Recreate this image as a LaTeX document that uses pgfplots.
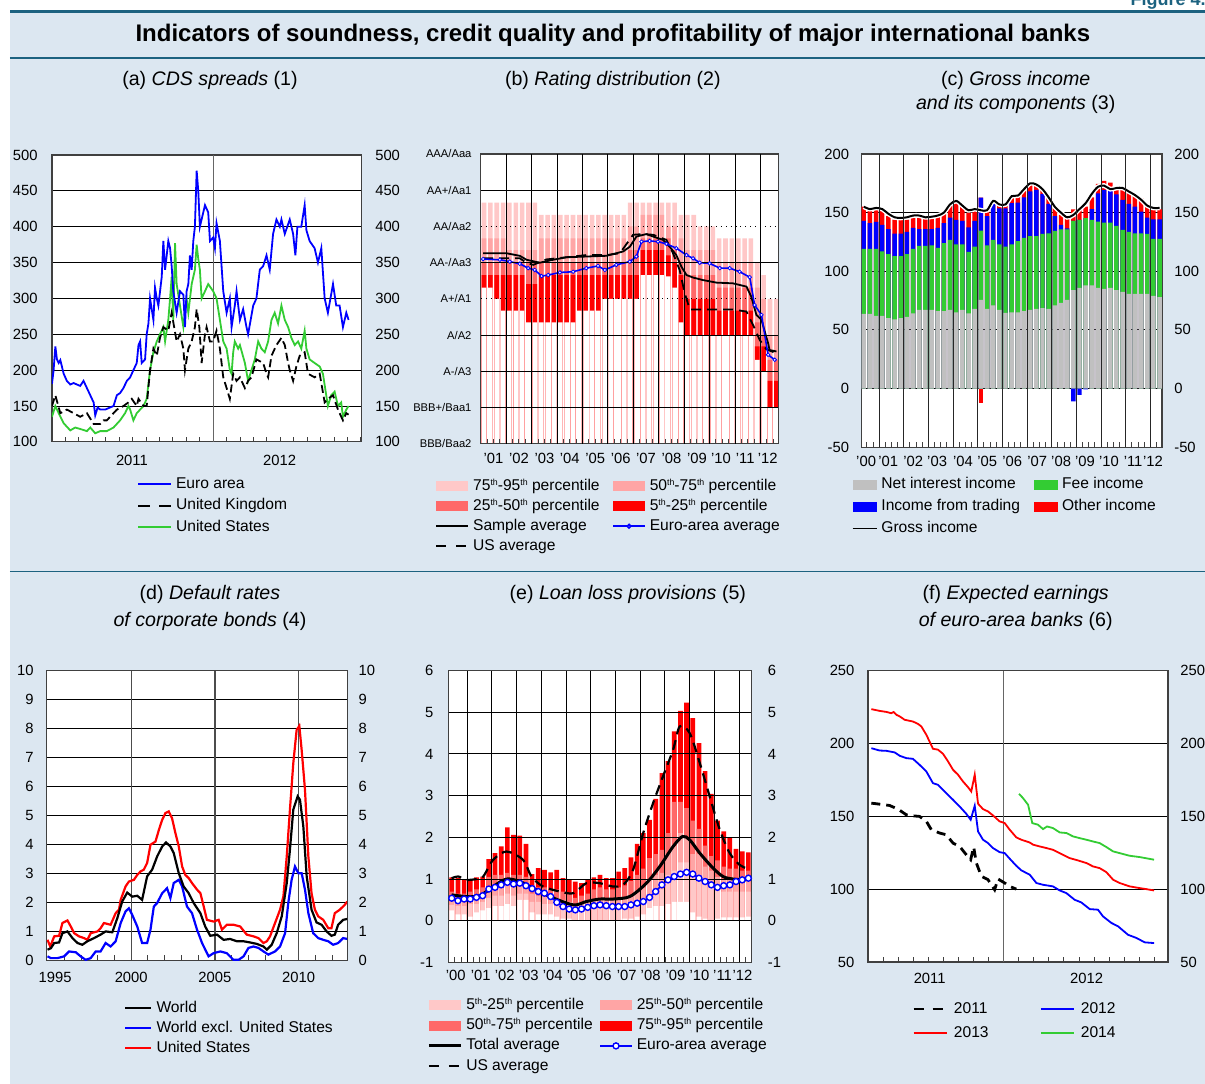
\documentclass[border=0pt]{standalone}
\usepackage{fontspec}
\setmainfont{Liberation Sans}
\usepackage{pgfplots}
\usepackage{pgfplotstable}
\pgfplotsset{compat=1.18}

\definecolor{bgblue}{RGB}{220,231,241}
\definecolor{rulec}{RGB}{28,98,128}
\definecolor{pkA}{RGB}{255,200,200}
\definecolor{pkB}{RGB}{255,165,165}
\definecolor{pkC}{RGB}{255,105,105}
\definecolor{pkD}{RGB}{255,0,0}
\definecolor{grn}{RGB}{51,204,51}
\definecolor{gry}{RGB}{192,192,192}

\newcommand{\tkf}{\fontsize{7.4}{8.5}\selectfont}
\newcommand{\lgf}{\fontsize{7.8}{9}\selectfont}
\newcommand{\ptf}{\fontsize{9.8}{11}\selectfont}
\newcommand{\sth}{\raisebox{0.6ex}{\fontsize{4.4}{5}\selectfont th}}
\newcommand{\legw}{16pt}

\pgfplotsset{
  barleg/.style={legend image code/.code={\fill[##1, draw=none] (0pt,-2.5pt) rectangle (\legw,2.5pt);}},
  lineleg/.style={legend image code/.code={\draw[mark repeat=2,mark phase=2,##1] plot coordinates {(0pt,0pt) ({0.5*\legw},0pt) (\legw,0pt)};}},
  legbase/.style={
    legend cell align=left,
    legend style={draw=none, fill=none, inner sep=0pt, anchor=north west, font=\lgf,
      nodes={inner sep=0pt, text height=6pt, text depth=2pt}, column sep=2pt},
  },
  panel/.style={legbase,
    scale only axis, anchor=south west,
    axis background/.style={fill=white},
    axis line style={black!75, line width=0.6pt},
    tick label style={font=\tkf},
    /pgf/number format/assume math mode=true,
    ytick style={draw=none},
    xtick pos=left, tick align=inside,
    major tick length=0pt, minor tick length=2.5pt,
    minor tick style={black!75, line width=0.5pt},
    ymajorgrids, major grid style={black, line width=0.45pt},
    yticklabel style={inner sep=0pt, anchor=east},
    xticklabel style={inner sep=0pt, anchor=north},
  },
  twin/.style={legbase,
    scale only axis, anchor=south west,
    axis x line=none, axis y line*=right,
    y axis line style={draw=none}, ytick style={draw=none},
    tick label style={font=\tkf},
    /pgf/number format/assume math mode=true,
    yticklabel style={inner sep=0pt, anchor=west},
  },
}

% (a) CDS spreads, x = months since Jan 2011
\pgfplotstableread{
m v
0.00 181
0.12 200
0.25 233
0.37 215
0.50 210
0.62 214
0.87 195
1.11 185
1.36 180
1.61 182
2.10 178
2.35 185
2.60 175
2.85 165
3.10 155
3.22 137
3.40 148
3.59 145
3.96 145
4.33 148
4.58 150
4.83 165
5.07 168
5.32 175
5.57 185
5.82 190
6.06 200
6.31 210
6.44 235
6.56 240
6.68 210
6.93 215
7.05 250
7.18 265
7.30 300
7.55 270
7.67 315
7.80 300
7.92 290
8.17 330
8.29 380
8.42 340
8.66 380
8.79 370
8.91 345
9.03 310
9.28 280
9.53 310
9.78 305
9.90 260
10.02 310
10.15 320
10.27 360
10.40 340
10.52 380
10.64 400
10.77 478
10.89 450
11.01 400
11.39 430
11.63 420
11.76 380
12.00 385
12.13 370
12.25 405
12.50 380
12.75 310
13.00 280
13.24 300
13.37 260
13.61 290
13.74 310
13.99 270
14.23 285
14.48 260
14.60 250
14.98 290
15.22 300
15.47 340
15.72 345
15.97 360
16.21 340
16.46 390
16.71 410
16.96 400
17.08 410
17.33 390
17.70 410
17.95 390
18.12 360
18.27 400
18.56 400
18.81 430
18.94 395
19.18 380
19.55 370
19.80 350
20.05 370
20.30 300
20.54 280
20.92 320
21.16 290
21.41 290
21.66 260
21.91 280
22.08 270
}\taEA
\pgfplotstableread{
m v
0.00 150
0.25 165
0.62 140
1.11 145
1.61 140
2.10 135
2.60 140
3.10 125
3.59 125
3.84 130
4.08 130
4.58 140
4.83 145
5.32 150
5.69 155
5.94 160
6.31 150
6.44 160
6.81 150
7.05 150
7.30 200
7.55 230
7.80 220
8.04 245
8.29 260
8.66 255
8.91 280
9.28 240
9.53 250
9.78 230
9.90 200
10.15 230
10.40 240
10.64 260
10.77 285
10.97 260
11.14 210
11.39 250
11.51 260
11.76 240
12.00 240
12.25 255
12.50 230
12.75 190
13.00 175
13.24 160
13.49 195
13.74 185
13.99 190
14.36 175
14.60 185
14.85 190
15.22 215
15.72 210
15.97 195
16.09 190
16.34 220
16.71 235
17.08 245
17.33 235
17.58 210
17.70 200
17.95 185
18.19 205
18.44 220
18.81 225
19.06 195
19.55 190
19.93 195
20.30 155
20.54 160
20.92 165
21.29 145
21.66 130
21.91 140
22.08 138
}\taUK
\pgfplotstableread{
m v
0.00 135
0.25 150
0.50 140
0.87 126
1.36 116
1.73 120
2.10 118
2.60 115
2.85 120
3.22 112
3.59 115
4.08 115
4.58 120
5.07 130
5.44 140
5.69 150
5.82 145
6.06 130
6.31 140
6.56 145
6.81 150
7.05 160
7.30 200
7.55 225
7.80 240
8.04 250
8.29 260
8.42 240
8.66 270
8.79 300
8.91 330
9.03 270
9.16 377
9.28 320
9.53 290
9.78 260
10.02 300
10.15 280
10.40 320
10.64 340
10.77 375
10.89 355
11.01 340
11.14 300
11.39 310
11.63 320
12.00 310
12.25 300
12.50 270
12.75 240
13.00 230
13.24 200
13.37 195
13.49 225
13.61 240
13.86 230
13.99 235
14.36 210
14.60 185
14.85 200
15.10 215
15.35 240
15.59 230
15.84 225
16.09 240
16.34 270
16.58 280
16.83 265
17.08 290
17.33 270
17.58 260
17.82 245
18.07 235
18.32 240
18.56 230
18.81 255
18.94 230
19.18 215
19.55 210
19.93 205
20.17 195
20.54 150
20.79 165
21.04 170
21.29 150
21.53 155
21.66 135
21.91 145
22.08 150
}\taUS

% (b) rating distribution, BBB/Baa2 = 0 ... AAA/Aaa = 8
\pgfplotstableread{
x p5 p25 p50 p75 p95
2001.125 4.31 4.66 5.00 5.67 6.66
2001.375 4.31 4.66 5.00 5.67 6.66
2001.625 4.00 4.66 5.00 5.67 6.66
2001.875 3.68 4.66 5.00 5.67 6.66
2002.125 3.68 4.66 5.00 5.35 6.66
2002.375 3.68 4.66 5.00 5.35 6.66
2002.625 3.68 4.66 5.00 5.35 6.66
2002.875 3.35 4.41 5.00 5.35 6.66
2003.125 3.35 4.41 5.00 5.35 6.66
2003.375 3.35 4.66 5.00 5.67 6.32
2003.625 3.35 4.66 5.00 5.67 6.32
2003.875 3.35 4.66 5.00 5.67 6.32
2004.125 3.35 4.66 5.00 5.67 6.32
2004.375 3.35 4.66 5.00 5.67 6.32
2004.625 3.35 4.66 5.00 5.67 6.32
2004.875 3.68 4.66 5.00 5.67 6.32
2005.125 3.68 4.66 5.00 5.67 6.32
2005.375 3.68 4.66 5.00 5.67 6.32
2005.625 3.68 4.66 5.00 5.67 6.32
2005.875 4.00 4.66 5.00 5.67 6.32
2006.125 4.00 4.66 5.00 5.67 6.32
2006.375 4.00 4.66 5.00 5.67 6.32
2006.625 4.00 4.66 5.00 5.67 6.32
2006.875 4.00 4.66 5.35 6.00 6.66
2007.125 4.00 4.66 5.35 6.00 6.66
2007.375 4.66 5.35 5.67 6.32 6.66
2007.625 4.66 5.35 5.67 6.32 6.66
2007.875 4.66 5.35 5.67 6.32 6.66
2008.125 4.66 5.35 5.67 6.32 6.66
2008.375 4.62 5.20 5.67 6.00 6.66
2008.625 4.31 5.00 5.35 6.00 6.66
2008.875 3.35 4.66 5.00 5.67 6.32
2009.125 3.00 4.00 4.66 5.35 6.32
2009.375 3.00 4.00 4.66 5.35 6.32
2009.625 3.00 4.00 4.66 5.35 6.00
2009.875 3.00 4.00 4.66 5.35 6.00
2010.125 3.00 4.00 4.66 5.35 6.00
2010.375 3.00 3.68 4.31 5.00 5.67
2010.625 3.00 3.68 4.31 5.00 5.67
2010.875 3.00 3.68 4.31 5.00 5.67
2011.125 3.00 3.68 4.31 5.00 5.67
2011.375 3.00 3.68 4.31 5.00 5.67
2011.625 3.00 3.68 4.31 5.00 5.67
2011.875 2.32 2.69 3.35 4.31 5.00
2012.125 2.00 2.69 3.00 4.00 4.66
2012.375 1.00 1.74 2.32 3.00 4.00
2012.625 1.00 1.74 2.32 3.00 4.00
}\tb

% (c) gross income: cumulative tops of the positive parts
\pgfplotstableread{
x nii fee trade other gross
2000.375 63.6 119 143 155 155
2000.625 63.6 119 141 152 153
2000.875 62 119 142 153 154
2001.125 62 117 139.5 152 153
2001.375 60 114.5 136 147 149
2001.625 59 113 132 144 146
2001.875 60 113 132 144 145.5
2002.125 61 114.5 133.5 144 146
2002.375 64 119 137 146.5 147.5
2002.625 67 121.6 136 147 147.5
2002.875 67 121.6 136 145 146
2003.125 67 122 136 145.7 146.5
2003.375 66 120 137 146.5 147.5
2003.625 66 124 141 149 150
2003.875 67 126.7 145.7 157 157
2004.125 65 123 143.7 158.5 160
2004.375 67 123 143 155.7 156
2004.625 64 116.5 137.5 150 152
2004.875 68 121 143 151.4 153
2005.125 75.6 134.7 162.8 162.8 152
2005.375 68 122 147 151 152
2005.625 71 126.7 157.4 159.4 160
2005.875 67 123 153.7 155.7 157
2006.125 64.5 121 153.7 155.7 157
2006.375 65 123 158 163 164
2006.625 65 125.6 158.5 163.6 164.5
2006.875 66 128.4 163 168.75 170
2007.125 67 130 168 173.6 175
2007.375 68 130 169.3 173.6 174
2007.625 68.5 131.8 166 170.7 170
2007.875 68 132.4 157.4 163 163
2008.125 71 134.4 147 155 155
2008.375 73 135.8 139.5 148 150
2008.625 75.6 135.8 136.6 145.2 146
2008.875 84 143 143 152.8 148
2009.125 85.8 143.7 143.7 153.7 153
2009.375 88 145.2 145.2 155 158
2009.625 88 143.7 153 163 166
2009.875 85.8 142.3 166.5 174.4 172
2010.125 85 141.5 169.3 177 173
2010.375 85.8 141.5 168.5 175.6 170
2010.625 84 138.6 165.6 171.6 171
2010.875 82.4 135.2 160.8 172 171
2011.125 80.7 133.5 157.4 168.75 168
2011.375 80.7 132.4 155 165 165
2011.625 80.7 132.4 150.8 162.2 161
2011.875 80.7 131.8 145.7 155 156
2012.125 79 127.5 144.3 153.7 154
2012.375 78 127.5 144.3 152.8 154
}\tc

% (d) default rates
\pgfplotstableread{
x v
1995.00 0.71
1995.16 0.48
1995.40 0.83
1995.69 0.85
1995.89 1.29
1996.19 1.38
1996.39 1.17
1996.59 0.94
1996.88 0.83
1997.18 0.77
1997.38 0.71
1997.58 0.94
1997.98 1.00
1998.17 1.11
1998.37 1.29
1998.77 1.23
1999.07 1.63
1999.27 1.75
1999.37 2.09
1999.66 2.55
1999.86 2.72
2000.16 2.78
2000.36 2.95
2000.56 3.07
2000.75 3.13
2000.95 3.36
2001.15 3.99
2001.45 4.10
2001.65 4.50
2001.85 4.85
2002.04 5.08
2002.24 5.14
2002.44 4.90
2002.64 4.39
2002.84 3.93
2003.04 3.24
2003.23 2.95
2003.43 2.84
2003.63 2.67
2003.93 2.44
2004.13 2.32
2004.33 1.86
2004.52 1.40
2004.92 1.34
2005.22 1.40
2005.42 1.06
2005.71 1.23
2006.11 1.23
2006.51 1.17
2006.90 0.89
2007.30 0.83
2007.60 0.77
2007.90 0.60
2008.10 0.66
2008.29 0.83
2008.59 1.29
2008.89 1.75
2009.09 2.21
2009.29 3.59
2009.48 5.20
2009.68 6.80
2009.88 7.95
2010.04 8.09
2010.18 7.26
2010.38 5.88
2010.58 3.59
2010.77 2.32
2010.97 1.75
2011.17 1.52
2011.47 1.40
2011.77 1.11
2011.96 1.11
2012.16 1.63
2012.46 1.75
2012.76 1.92
2012.90 2.03
}\tdUS
\pgfplotstableread{
x v
1995.00 0.37
1995.20 0.42
1995.40 0.60
1995.69 0.62
1995.89 0.94
1996.19 1.00
1996.49 0.77
1996.79 0.60
1997.08 0.54
1997.38 0.66
1997.78 0.77
1998.17 0.89
1998.47 1.00
1998.87 0.97
1999.17 1.46
1999.46 2.03
1999.76 2.34
2000.06 2.20
2000.36 2.23
2000.65 2.09
2000.95 2.90
2001.25 3.13
2001.55 3.59
2001.85 3.93
2002.08 4.07
2002.34 3.93
2002.54 3.70
2002.84 3.01
2003.13 2.55
2003.43 2.32
2003.73 1.98
2004.13 1.63
2004.42 1.17
2004.72 0.85
2005.12 0.89
2005.52 0.71
2005.91 0.74
2006.31 0.66
2006.71 0.66
2007.10 0.62
2007.50 0.57
2007.90 0.48
2008.10 0.37
2008.39 0.54
2008.69 0.94
2008.99 1.52
2009.29 2.67
2009.48 3.82
2009.68 5.20
2009.94 5.66
2010.08 5.54
2010.28 4.62
2010.48 2.90
2010.77 1.75
2011.07 1.31
2011.37 1.23
2011.67 1.00
2011.96 0.85
2012.16 0.89
2012.36 1.23
2012.66 1.40
2012.90 1.43
}\tdW
\pgfplotstableread{
x v
1995.00 0.14
1995.20 0.08
1995.60 0.08
1995.99 0.14
1996.29 0.31
1996.69 0.28
1996.98 0.14
1997.28 0.02
1997.58 0.08
1997.88 0.31
1998.17 0.31
1998.47 0.60
1998.77 0.48
1999.07 0.66
1999.37 1.29
1999.66 1.69
1999.86 1.80
2000.06 1.57
2000.36 1.17
2000.65 0.60
2000.95 0.60
2001.15 1.06
2001.35 1.86
2001.55 1.98
2001.85 2.32
2002.14 2.49
2002.34 2.15
2002.54 2.67
2002.84 2.78
2003.04 2.55
2003.33 1.86
2003.63 1.63
2003.93 1.06
2004.23 0.60
2004.62 0.14
2004.92 0.25
2005.32 0.31
2005.71 0.25
2006.11 0.02
2006.41 0.02
2006.71 0.14
2007.00 0.43
2007.30 0.48
2007.60 0.43
2007.90 0.31
2008.19 0.20
2008.59 0.31
2008.89 0.48
2009.19 0.94
2009.38 1.98
2009.58 2.78
2009.78 3.24
2009.98 3.01
2010.18 3.01
2010.38 2.44
2010.58 1.63
2010.87 0.94
2011.17 0.77
2011.47 0.71
2011.77 0.66
2012.06 0.54
2012.36 0.60
2012.66 0.77
2012.90 0.74
}\tdX

% (e) loan loss provisions
\pgfplotstableread{
x p5 p25 p50 p75 p95 ea
2000.375 0.25 0.38 0.5 0.7 1.04 0.54
2000.625 0.15 0.35 0.45 0.65 1.02 0.48
2000.875 0.15 0.35 0.45 0.65 0.98 0.52
2001.125 0.1 0.4 0.5 0.7 0.98 0.52
2001.375 0.2 0.4 0.55 0.75 1.04 0.56
2001.625 0.25 0.45 0.6 0.8 1.06 0.60
2001.875 0.3 0.55 0.75 1.05 1.48 0.76
2002.125 0.35 0.6 0.85 1.1 1.62 0.80
2002.375 0.35 0.6 0.85 1.1 1.78 0.86
2002.625 0.4 0.65 0.9 1.15 2.24 0.92
2002.875 0.35 0.6 0.85 1.1 2.06 0.88
2003.125 0.5 0.65 0.85 1.1 2.04 0.90
2003.375 0.5 0.65 0.85 1.05 1.84 0.84
2003.625 0.2 0.45 0.65 0.85 1.12 0.77
2003.875 0.15 0.45 0.6 0.8 1.26 0.70
2004.125 0.15 0.4 0.6 0.8 1.22 0.66
2004.375 0.15 0.4 0.6 0.75 1.16 0.58
2004.625 0.1 0.35 0.55 0.75 1.22 0.44
2004.875 0.05 0.3 0.5 0.7 1.02 0.34
2005.125 0.05 0.3 0.45 0.65 1.0 0.28
2005.375 0.0 0.25 0.4 0.55 0.94 0.26
2005.625 0.0 0.25 0.4 0.6 0.9 0.28
2005.875 0.0 0.25 0.45 0.65 0.98 0.32
2006.125 0.0 0.3 0.5 0.75 1.04 0.36
2006.375 0.0 0.3 0.5 0.8 1.1 0.38
2006.625 0.0 0.3 0.5 0.75 1.02 0.36
2006.875 0.0 0.3 0.5 0.75 1.02 0.34
2007.125 0.0 0.3 0.55 0.8 1.18 0.34
2007.375 0.05 0.3 0.55 0.85 1.26 0.34
2007.625 0.05 0.35 0.6 0.95 1.52 0.38
2007.875 0.1 0.4 0.7 1.1 1.84 0.42
2008.125 0.15 0.45 0.8 1.25 2.10 0.46
2008.375 0.3 0.6 1.0 1.5 2.42 0.56
2008.625 0.35 0.7 1.1 1.6 2.92 0.70
2008.875 0.35 0.75 1.15 1.7 3.54 0.86
2009.125 0.4 1.1 1.6 2.1 3.83 0.98
2009.375 0.45 1.2 1.8 2.85 4.54 1.06
2009.625 0.45 1.4 2.1 2.85 5.03 1.12
2009.875 0.45 1.4 2.0 2.7 5.23 1.16
2010.125 0.2 1.2 1.6 2.4 4.86 1.12
2010.375 0.1 1.1 1.6 2.2 4.26 1.02
2010.625 0.05 0.9 1.3 1.8 3.59 0.94
2010.875 0.0 0.8 1.2 1.55 3.04 0.86
2011.125 0.05 0.75 1.05 1.45 2.40 0.80
2011.375 0.08 0.7 1.0 1.3 2.14 0.84
2011.625 0.08 0.7 1.0 1.25 1.98 0.86
2011.875 0.08 0.7 1.0 1.25 1.72 0.94
2012.125 0.08 0.7 1.0 1.2 1.66 0.98
2012.375 0.1 0.7 1.0 1.2 1.64 1.02
}\te

% (f) expected earnings, x = months since Jan 2011
\pgfplotstableread{
m v
3.22 223.5
3.77 222.3
4.21 221.6
4.54 220.7
4.70 221.5
4.88 219.6
5.10 218.5
5.43 216.2
5.98 215.0
6.31 213.4
6.54 211.6
6.87 205.9
7.31 196.3
7.64 195.7
7.97 192.9
8.31 187.6
8.64 181.9
8.97 178.5
9.30 173.9
9.63 170.0
9.85 167.0
10.08 178.5
10.30 158.6
10.63 154.9
10.96 153.3
11.29 150.6
11.73 146.5
12.07 145.3
12.40 140.8
12.84 135.5
13.17 133.9
13.73 132.0
13.95 130.5
14.39 129.3
14.83 128.2
15.27 127.0
15.72 124.7
16.38 121.3
16.93 119.7
17.49 117.9
17.93 115.6
18.37 114.4
18.81 111.7
19.26 106.5
19.70 104.2
20.36 101.9
21.03 100.7
21.47 100.0
21.98 99.1
}\tfC
\pgfplotstableread{
m v
3.22 196.7
3.77 195.1
4.21 194.9
4.77 193.8
5.10 191.5
5.54 189.9
5.98 189.4
6.42 185.3
6.87 180.7
7.31 172.7
7.64 171.6
8.19 165.9
8.64 161.3
9.08 156.7
9.52 151.7
9.81 147.6
10.08 157.2
10.30 139.6
10.63 133.9
10.96 131.6
11.29 128.2
11.73 125.4
12.07 124.7
12.40 120.9
12.84 116.0
13.17 112.9
13.73 109.9
14.17 104.2
14.61 103.0
15.27 101.9
15.72 99.1
16.16 97.3
16.71 92.7
17.15 90.9
17.71 86.3
18.26 85.9
18.59 81.3
19.15 76.8
19.59 74.5
20.25 68.7
20.81 66.5
21.36 63.5
21.98 63.0
}\tfB
\pgfplotstableread{
m v
13.02 165.4
13.28 162.5
13.62 157.9
13.90 145.3
14.28 144.2
14.61 141.2
14.88 143.0
15.27 141.9
15.72 138.9
16.16 138.5
16.60 136.2
17.04 135.0
17.49 133.9
17.93 132.7
18.37 131.6
18.81 128.9
19.26 125.9
19.70 124.7
20.36 122.9
21.03 122.0
21.98 120.2
}\tfD
\pgfplotstableread{
m v
3.22 159.0
3.77 158.3
4.43 157.4
4.99 154.9
5.54 151.0
5.98 150.3
6.42 149.9
6.87 146.5
7.20 140.8
7.75 138.5
8.19 137.3
8.64 131.6
9.08 129.3
9.52 123.6
9.81 120.2
10.01 128.9
10.19 117.9
10.52 108.8
10.96 106.5
11.40 99.6
11.62 107.0
12.07 104.2
12.40 101.9
12.84 100.0
}\tfA

\begin{document}
\begin{tikzpicture}
\begin{scope}[x=0.5pt,y=-0.5pt]
\useasboundingbox (0,0) rectangle (1205,1084);
\fill[bgblue] (10,12) rectangle (1205,1084);
\fill[rulec] (10,9.5) rectangle (1205,13);
\draw[rulec, line width=0.6pt] (10,58) -- (1205,58);
\draw[rulec, line width=0.6pt] (10,572) -- (1205,572);
\node[anchor=base west, text=rulec, font=\bfseries\fontsize{9}{10}\selectfont] at (1124,5) {Figure 4.1};
\node[font=\bfseries\fontsize{12}{14}\selectfont] at (613,35) {Indicators of soundness, credit quality and profitability of major international banks};
\node[font=\ptf] at (210,80) {(a) \textit{CDS spreads} (1)};
\node[font=\ptf] at (613,80) {(b) \textit{Rating distribution} (2)};
\node[font=\ptf] at (1016,80) {(c) \textit{Gross income}};
\node[font=\ptf] at (1016,104) {\textit{and its components} (3)};
\node[font=\ptf] at (210,595) {(d) \textit{Default rates}};
\node[font=\ptf] at (210,622) {\textit{of corporate bonds} (4)};
\node[font=\ptf] at (628,595) {(e) \textit{Loan loss provisions} (5)};
\node[font=\ptf] at (1016,595) {(f) \textit{Expected earnings}};
\node[font=\ptf] at (1016,622) {\textit{of euro-area banks} (6)};
\end{scope}

% ---------------- (a)
\begin{axis}[panel, at={(26pt,-221pt)}, width=155pt, height=143.5pt,
  xmin=0, xmax=23.07, ymin=100, ymax=500, ytick={100,150,...,500},
  yticklabel style={xshift=-7pt},
  xtick={5.95,16.95}, xticklabels={2011,2012}, xticklabel style={yshift=-6.5pt},
  minor xtick={1,...,23},
  extra x ticks={12}, extra x tick labels={},
  extra x tick style={grid=major, major grid style={black!60, line width=0.6pt}},
  /utils/exec={\def\legw{16.5pt}},
  legend style={at={(0.274,-0.1185)}, row sep=2.75pt}]
\addlegendimage{lineleg, blue, line width=0.9pt}\addlegendentry{Euro area}
\addlegendimage{lineleg, black, line width=0.9pt, dash pattern=on 6pt off 4.5pt}\addlegendentry{United Kingdom}
\addlegendimage{lineleg, grn, line width=0.9pt}\addlegendentry{United States}
\addplot[grn, line width=0.9pt, forget plot] table[x=m,y=v]{\taUS};
\addplot[black, line width=0.9pt, dash pattern=on 4pt off 2pt, forget plot] table[x=m,y=v]{\taUK};
\addplot[blue, line width=0.9pt, forget plot] table[x=m,y=v]{\taEA};
\end{axis}
\begin{axis}[twin, at={(26pt,-221pt)}, width=155pt, height=143.5pt,
  xmin=0, xmax=23.07, ymin=100, ymax=500, ytick={100,150,...,500},
  yticklabel style={xshift=6.5pt}]
\end{axis}

% ---------------- (b)
\begin{axis}[panel, at={(240.5pt,-222pt)}, width=149pt, height=145pt,
  xmin=2001, xmax=2012.72, ymin=0, ymax=8, axis on top,
  ytick={0,1,2,3,5,7,8},
  yticklabels={BBB/Baa2,BBB+/Baa1,A-/A3,A/A2,AA-/Aa3,AA+/Aa1,AAA/Aaa},
  extra y ticks={4,6}, extra y tick labels={A+/A1,AA/Aa2},
  extra y tick style={major grid style={black, dotted, line width=0.5pt}},
  yticklabel style={font=\fontsize{5.6}{6.5}\selectfont, xshift=-4.5pt},
  xtick={2001.5,2002.5,2003.5,2004.5,2005.5,2006.5,2007.5,2008.5,2009.5,2010.45,2011.4,2012.29},
  xticklabels={’01,’02,’03,’04,’05,’06,’07,’08,’09,’10,’11,’12},
  xticklabel style={yshift=-4.5pt},
  minor xtick={2001.25,2001.5,...,2012.5},
  extra x ticks={2002,2003,...,2012}, extra x tick labels={},
  extra x tick style={grid=major},
  legend style={at={(-0.154,-0.117)}, row sep=2pt}]
\addlegendimage{barleg, fill=pkA}\addlegendentry{75\sth-95\sth\ percentile}
\addlegendimage{barleg, fill=pkC}\addlegendentry{25\sth-50\sth\ percentile}
\addlegendimage{lineleg, black, line width=0.9pt}\addlegendentry{Sample average}
\addlegendimage{lineleg, black, line width=0.9pt, dash pattern=on 5pt off 5pt}\addlegendentry{US average}
\addplot[ybar, bar shift=0pt, bar width=0.18, fill=pkA, draw=none, forget plot] table[x=x,y=p95]{\tb};
\addplot[ybar, bar shift=0pt, bar width=0.18, fill=pkB, draw=none, forget plot] table[x=x,y=p75]{\tb};
\addplot[ybar, bar shift=0pt, bar width=0.18, fill=pkC, draw=none, forget plot] table[x=x,y=p50]{\tb};
\addplot[ybar, bar shift=0pt, bar width=0.18, fill=pkD, draw=none, forget plot] table[x=x,y=p25]{\tb};
\addplot[ybar, bar shift=0pt, bar width=0.18, fill=white, draw=none, forget plot] table[x=x,y=p5]{\tb};
\addplot[black, line width=0.9pt, forget plot] coordinates {
(2001.09,5.26) (2002.01,5.26) (2002.53,5.19) (2002.80,5.08) (2003.32,5.00) (2003.84,5.08)
(2004.37,5.15) (2005.15,5.17) (2005.94,5.19) (2006.60,5.31) (2006.86,5.44) (2007.12,5.72)
(2007.51,5.79) (2007.78,5.72) (2008.17,5.63) (2008.43,5.44) (2008.69,5.21) (2008.89,4.89)
(2009.09,4.66) (2009.35,4.59) (2009.74,4.52) (2010.27,4.45) (2010.92,4.43) (2011.45,4.34)
(2011.64,4.06) (2011.84,3.56) (2012.04,3.42) (2012.30,2.78) (2012.36,2.59) (2012.63,2.55)};
\addplot[black, line width=0.9pt, dash pattern=on 5pt off 3pt, forget plot] coordinates {
(2001.09,5.12) (2002.14,5.12) (2002.53,5.12) (2002.80,5.00) (2003.06,4.94) (2003.58,5.09)
(2004.37,5.15) (2005.15,5.21) (2005.94,5.21) (2006.47,5.26) (2006.99,5.77) (2007.38,5.79)
(2007.78,5.77) (2008.30,5.63) (2008.56,5.26) (2008.82,4.80) (2009.02,4.16) (2009.22,3.71)
(2009.61,3.71) (2010.92,3.71) (2011.45,3.65) (2011.71,3.28) (2011.97,2.87) (2012.23,2.61)
(2012.63,2.50)};
\addplot[blue, line width=0.8pt, mark=*, mark size=0.9pt, mark options={fill=white, draw=blue, line width=0.4pt}, forget plot] coordinates {
(2001.09,5.10) (2001.75,5.08) (2002.14,5.03) (2002.53,4.97) (2002.86,4.85) (2003.12,4.80)
(2003.39,4.63) (2003.65,4.66) (2004.11,4.73) (2004.63,4.75) (2005.15,4.85) (2005.61,4.91)
(2005.88,4.80) (2006.33,4.94) (2006.86,5.03) (2007.12,5.17) (2007.32,5.58) (2007.64,5.60)
(2007.97,5.58) (2008.30,5.52) (2008.69,5.40) (2009.09,5.21) (2009.35,5.12) (2009.61,5.00)
(2010.00,4.98) (2010.40,4.85) (2010.79,4.85) (2011.18,4.75) (2011.58,4.60) (2011.77,3.83)
(2012.04,3.56) (2012.30,2.46) (2012.56,2.32)};
\end{axis}
\begin{axis}[twin, at={(240.5pt,-222pt)}, width=149pt, height=145pt,
  xmin=2001, xmax=2012.72, ymin=0, ymax=8, ytick=\empty,
  legend style={at={(0.4396,-0.117)}, row sep=2pt}]
\addlegendimage{barleg, fill=pkB}\addlegendentry{50\sth-75\sth\ percentile}
\addlegendimage{barleg, fill=pkD}\addlegendentry{5\sth-25\sth\ percentile}
\addlegendimage{lineleg, blue, line width=0.8pt, mark=*, mark size=0.9pt, mark options={fill=white, draw=blue}}\addlegendentry{Euro-area average}
\end{axis}

% ---------------- (c)
\begin{axis}[panel, at={(430.85pt,-223.65pt)}, width=150.3pt, height=146.65pt,
  xmin=2000.28, xmax=2012.47, ymin=-50, ymax=200, ytick={-50,0,...,200},
  yticklabel style={xshift=-6pt},
  xtick={2000.47,2001.37,2002.38,2003.35,2004.4,2005.38,2006.4,2007.41,2008.38,2009.35,2010.32,2011.3,2012.11},
  xticklabels={’00,’01,’02,’03,’04,’05,’06,’07,’08,’09,’10,’11,’12},
  xticklabel style={yshift=-4.5pt},
  minor xtick={2000.5,2000.75,...,2012.25},
  /utils/exec={\def\legw{12pt}},
  legend style={at={(-0.0333,-0.099)}, row sep=3pt}]
\addlegendimage{barleg, fill=gry}\addlegendentry{Net interest income}
\addlegendimage{barleg, fill=blue}\addlegendentry{Income from trading}
\addlegendimage{lineleg, black, line width=0.8pt}\addlegendentry{Gross income}
\addplot[ybar, bar shift=0pt, bar width=0.18, fill=pkD, draw=none, forget plot] table[x=x,y=other]{\tc};
\addplot[ybar, bar shift=0pt, bar width=0.18, fill=blue, draw=none, forget plot] table[x=x,y=trade]{\tc};
\addplot[ybar, bar shift=0pt, bar width=0.18, fill=grn, draw=none, forget plot] table[x=x,y=fee]{\tc};
\addplot[ybar, bar shift=0pt, bar width=0.18, fill=gry, draw=none, forget plot] table[x=x,y=nii]{\tc};
\addplot[ybar, bar shift=0pt, bar width=0.18, fill=pkD, draw=none, forget plot] coordinates {(2005.125,-12)};
\addplot[ybar, bar shift=0pt, bar width=0.18, fill=blue, draw=none, forget plot] coordinates {(2008.875,-11) (2009.125,-5.4) (2009.375,-0.8)};
\addplot[white, line width=2.4pt, smooth, forget plot] table[x=x,y=gross]{\tc};
\addplot[black, line width=1pt, smooth, forget plot] table[x=x,y=gross]{\tc};
\pgfplotsinvokeforeach{2001,...,2012}{\draw[black!85, line width=0.5pt] (#1,-50) -- (#1,200);}
\end{axis}
\begin{axis}[twin, at={(430.85pt,-223.65pt)}, width=150.3pt, height=146.65pt,
  xmin=2000.28, xmax=2012.47, ymin=-50, ymax=200, ytick={-50,0,...,200},
  yticklabel style={xshift=6pt},
  /utils/exec={\def\legw{12pt}},
  legend style={at={(0.5733,-0.099)}, row sep=3pt}]
\addlegendimage{barleg, fill=grn}\addlegendentry{Fee income}
\addlegendimage{barleg, fill=pkD}\addlegendentry{Other income}
\end{axis}

% ---------------- (d)
\begin{axis}[panel, at={(23.35pt,-480.35pt)}, width=150.3pt, height=145pt,
  xmin=1994.95, xmax=2012.9, ymin=0, ymax=10, ytick={0,1,...,10},
  yticklabel style={xshift=-6.3pt},
  xtick={1995.45,2000,2005,2010}, xticklabels={1995,2000,2005,2010},
  xticklabel style={yshift=-5.6pt},
  minor xtick={1996,1997,...,2012},
  extra x ticks={2000,2005,2010}, extra x tick labels={},
  extra x tick style={grid=major, major grid style={black!70, line width=0.6pt}},
  /utils/exec={\def\legw{13pt}},
  legend style={at={(0.257,-0.1355)}, row sep=2pt}]
\addlegendimage{lineleg, black, line width=1.1pt}\addlegendentry{World}
\addlegendimage{lineleg, blue, line width=1.1pt}\addlegendentry{World excl. United States}
\addlegendimage{lineleg, pkD, line width=1.1pt}\addlegendentry{United States}
\addplot[pkD, line width=1.1pt, forget plot] table[x=x,y=v]{\tdUS};
\addplot[blue, line width=1.1pt, forget plot] table[x=x,y=v]{\tdX};
\addplot[black, line width=1.1pt, forget plot] table[x=x,y=v]{\tdW};
\end{axis}
\begin{axis}[twin, at={(23.35pt,-480.35pt)}, width=150.3pt, height=145pt,
  xmin=1994.95, xmax=2012.9, ymin=0, ymax=10, ytick={0,1,...,10},
  yticklabel style={xshift=5.5pt}]
\end{axis}

% ---------------- (e)
\begin{axis}[panel, at={(224.15pt,-481.35pt)}, width=151.7pt, height=146pt,
  xmin=2000.23, xmax=2012.5, ymin=-1, ymax=6, ytick={-1,0,...,6}, axis on top,
  yticklabel style={xshift=-7.2pt},
  xtick={2000.54,2001.55,2002.52,2003.49,2004.46,2005.43,2006.44,2007.45,2008.42,2009.43,2010.4,2011.33,2012.14},
  xticklabels={’00,’01,’02,’03,’04,’05,’06,’07,’08,’09,’10,’11,’12},
  xticklabel style={yshift=-3.6pt},
  minor xtick={2000.25,2000.5,...,2012.25},
  extra x ticks={2001,2002,...,2012}, extra x tick labels={},
  extra x tick style={grid=major},
  legend style={at={(-0.0702,-0.1175)}, row sep=2.2pt}]
\addlegendimage{barleg, fill=pkA}\addlegendentry{5\sth-25\sth\ percentile}
\addlegendimage{barleg, fill=pkC}\addlegendentry{50\sth-75\sth\ percentile}
\addlegendimage{lineleg, black, line width=1.5pt}\addlegendentry{Total average}
\addlegendimage{lineleg, black, line width=1.1pt, dash pattern=on 5pt off 5pt}\addlegendentry{US average}
\addplot[ybar, bar shift=0pt, bar width=0.19, fill=pkD, draw=none, forget plot] table[x=x,y=p95]{\te};
\addplot[ybar, bar shift=0pt, bar width=0.19, fill=pkC, draw=none, forget plot] table[x=x,y=p75]{\te};
\addplot[ybar, bar shift=0pt, bar width=0.19, fill=pkB, draw=none, forget plot] table[x=x,y=p50]{\te};
\addplot[ybar, bar shift=0pt, bar width=0.19, fill=pkA, draw=none, forget plot] table[x=x,y=p25]{\te};
\addplot[ybar, bar shift=0pt, bar width=0.19, fill=white, draw=none, forget plot] table[x=x,y=p5]{\te};
\addplot[black, line width=1.1pt, dash pattern=on 5pt off 3pt, smooth, forget plot] coordinates {
(2000.37,1.02) (2000.64,1.06) (2000.97,0.98) (2001.38,1.00) (2001.65,1.06) (2002.05,1.46)
(2002.59,1.66) (2003.26,1.46) (2003.60,1.06) (2004.07,0.82) (2004.75,0.70) (2005.29,0.66)
(2005.82,0.90) (2006.36,0.90) (2006.90,0.82) (2007.31,0.86) (2007.71,1.22) (2008.12,2.10)
(2008.52,2.82) (2008.92,3.46) (2009.33,4.10) (2009.60,4.66) (2010.00,4.50) (2010.41,3.78)
(2010.81,2.98) (2011.22,2.18) (2011.62,1.62) (2012.02,1.34) (2012.29,1.26)};
\addplot[black, line width=1.5pt, smooth, forget plot] coordinates {
(2000.37,0.62) (2000.97,0.58) (2001.51,0.60) (2002.05,0.82) (2002.59,1.00) (2003.13,0.94)
(2003.67,0.78) (2004.34,0.58) (2005.29,0.38) (2005.82,0.46) (2006.36,0.52) (2006.90,0.52)
(2007.58,0.58) (2008.25,0.90) (2008.79,1.30) (2009.33,1.78) (2009.71,2.02) (2010.00,1.94)
(2010.41,1.62) (2010.95,1.26) (2011.35,1.06) (2011.75,1.00) (2012.29,0.98)};
\addplot[blue, line width=0.8pt, mark=*, mark size=1.5pt, mark options={fill=white, draw=blue, line width=0.7pt}, forget plot] table[x=x,y=ea]{\te};
\end{axis}
\begin{axis}[twin, at={(224.15pt,-481.35pt)}, width=151.7pt, height=146pt,
  xmin=2000.23, xmax=2012.5, ymin=-1, ymax=6, ytick={-1,0,...,6},
  yticklabel style={xshift=8pt},
  legend style={at={(0.4967,-0.1175)}, row sep=2.2pt}]
\addlegendimage{barleg, fill=pkB}\addlegendentry{25\sth-50\sth\ percentile}
\addlegendimage{barleg, fill=pkD}\addlegendentry{75\sth-95\sth\ percentile}
\addlegendimage{lineleg, blue, line width=0.8pt, mark=*, mark size=1.5pt, mark options={fill=white, draw=blue, line width=0.7pt}}\addlegendentry{Euro-area average}
\end{axis}

% ---------------- (f)
\begin{axis}[panel, at={(434.15pt,-481.15pt)}, width=150pt, height=145.8pt,
  xmin=3, xmax=22.9, ymin=50, ymax=250, ytick={50,100,...,250},
  yticklabel style={xshift=-6.6pt},
  xtick={7.09,17.5}, xticklabels={2011,2012}, xticklabel style={yshift=-5.4pt},
  minor xtick={4,5,...,22},
  extra x ticks={12}, extra x tick labels={},
  extra x tick style={grid=major, major grid style={black!60, line width=0.6pt}},
  /utils/exec={\def\legw{16.5pt}},
  legend style={at={(0.1457,-0.1327)}, row sep=4pt, column sep=3pt}]
\addlegendimage{lineleg, black, line width=1.4pt, dash pattern=on 5pt off 4.5pt}\addlegendentry{2011}
\addlegendimage{lineleg, pkD, line width=0.9pt}\addlegendentry{2013}
\addplot[black, line width=1.4pt, dash pattern=on 4.5pt off 3pt, forget plot] table[x=m,y=v]{\tfA};
\addplot[blue, line width=0.9pt, forget plot] table[x=m,y=v]{\tfB};
\addplot[pkD, line width=0.9pt, forget plot] table[x=m,y=v]{\tfC};
\addplot[grn, line width=0.9pt, forget plot] table[x=m,y=v]{\tfD};
\end{axis}
\begin{axis}[twin, at={(434.15pt,-481.15pt)}, width=150pt, height=145.8pt,
  xmin=3, xmax=22.9, ymin=50, ymax=250, ytick={50,100,...,250},
  yticklabel style={xshift=6pt},
  /utils/exec={\def\legw{16.5pt}},
  legend style={at={(0.5723,-0.1327)}, row sep=4pt, column sep=3pt}]
\addlegendimage{lineleg, blue, line width=0.9pt}\addlegendentry{2012}
\addlegendimage{lineleg, grn, line width=0.9pt}\addlegendentry{2014}
\end{axis}
\end{tikzpicture}
\end{document}
